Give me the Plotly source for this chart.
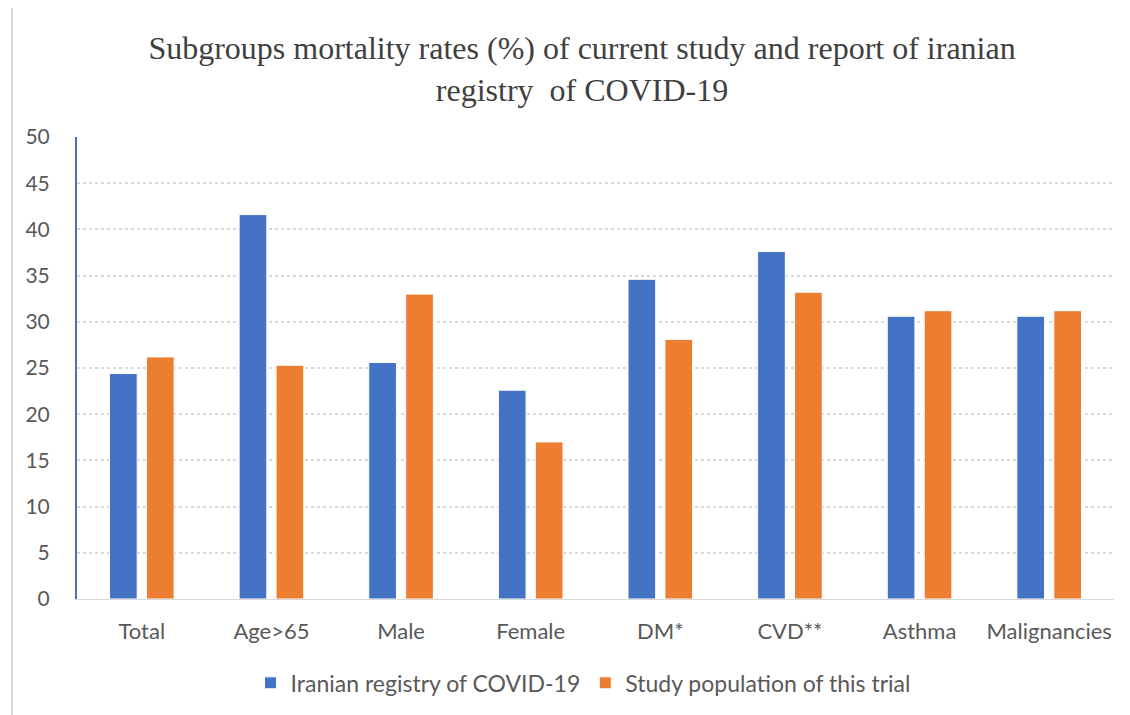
import plotly.graph_objects as go

categories = ["Total", "Age>65", "Male", "Female", "DM*", "CVD**", "Asthma", "Malignancies"]
registry = [24.4, 41.6, 25.6, 22.6, 34.6, 37.6, 30.6, 30.6]
study = [26.2, 25.3, 33.0, 17.0, 28.1, 33.2, 31.2, 31.2]
series_names = ["Iranian registry of COVID-19", "Study population of this trial"]
y_ticks = list(range(0, 51, 5))

BLUE = "#4472C4"
ORANGE = "#ED7D31"
TXT = "#595959"
SANS = "Lato, 'Open Sans', sans-serif"

fig = go.Figure()
fig.add_trace(go.Bar(x=categories, y=registry, name=series_names[0],
                     marker=dict(color=BLUE, line=dict(color="#ffffff", width=1))))
fig.add_trace(go.Bar(x=categories, y=study, name=series_names[1],
                     marker=dict(color=ORANGE, line=dict(color="#ffffff", width=1))))

fig.update_layout(
    width=1130, height=715,
    margin=dict(l=69, r=24, t=129, b=124, autoexpand=False),
    paper_bgcolor="white", plot_bgcolor="white",
    barmode="group", bargap=0.43, bargroupgap=0.25,
    title=dict(text="Subgroups mortality rates (%) of current study and report of iranian<br>registry  of COVID-19",
               x=0.508, xanchor="center", y=0.928, yanchor="top",
               font=dict(family="'Liberation Serif', 'Times New Roman', serif", size=32, color="#404040")),
    font=dict(family=SANS, size=20, color=TXT),
    legend=dict(orientation="h", x=0.488, xanchor="center", y=-0.135, yanchor="top",
                font=dict(family=SANS, size=23, color=TXT), traceorder="normal",
                itemwidth=30),
    showlegend=True,
)
fig.update_xaxes(showgrid=False, showline=True, linecolor="#d9d9d9", linewidth=1,
                 ticks="", ticklabelstandoff=13,
                 tickfont=dict(family=SANS, size=22, color=TXT))
fig.update_yaxes(range=[0, 50], tickvals=y_ticks, showgrid=True, gridcolor="#d9d9d9",
                 griddash="dot", gridwidth=1.5,
                 showline=True, linecolor=BLUE, linewidth=2, zeroline=False,
                 ticks="", ticklabelstandoff=21,
                 tickfont=dict(family=SANS, size=21, color=TXT))
fig.add_shape(type="line", xref="paper", yref="paper", x0=-65/1037, x1=-65/1037, y0=-0.4, y1=1.4,
              line=dict(color="#d9d9d9", width=2))

fig.write_html("out.html")
